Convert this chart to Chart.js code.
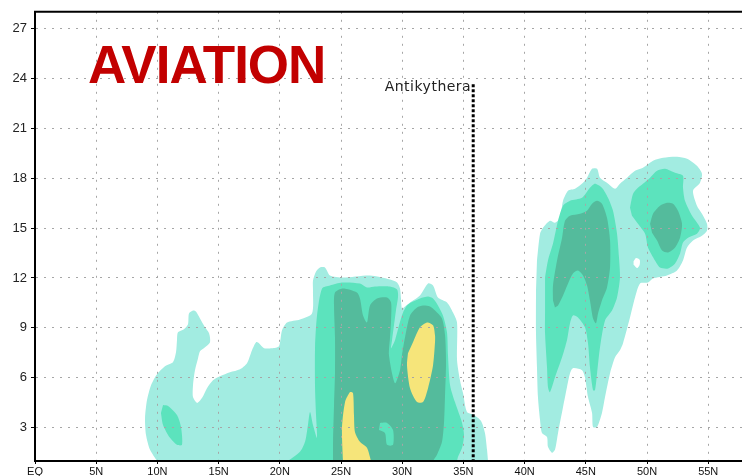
<!DOCTYPE html>
<html>
<head>
<meta charset="utf-8">
<script src="https://cdn.jsdelivr.net/npm/chart.js@4/dist/chart.umd.min.js"></script>
<style>
  html, body { margin: 0; padding: 0; background: #fff; overflow: hidden; }
  canvas { display: block; }
</style>
</head>
<body>
<canvas id="section" width="742" height="476"></canvas>
<script>
// Axis ticks: latitude (degrees north) and height (km)
const latTicks = [0, 5, 10, 15, 20, 25, 30, 35, 40, 45, 50, 55];
const latLabels = ['EQ', '5N', '10N', '15N', '20N', '25N', '30N', '35N', '40N', '45N', '50N', '55N'];
const heightTicks = [3, 6, 9, 12, 15, 18, 21, 24, 27];

// Contour bands, each as a closed outline of [latitude, height km] points
const lightWest = [
  [9.97, 1.0], [9.40, 1.67], [9.07, 2.57], [8.99, 3.59], [9.15, 4.66], [9.48, 5.56], [9.97, 6.22],
  [10.62, 6.70], [11.27, 6.94], [11.52, 7.54], [11.60, 8.26], [11.68, 8.74], [12.17, 8.92],
  [12.50, 9.22], [12.58, 9.87], [12.91, 10.05], [13.15, 9.99], [13.48, 9.57], [13.89, 9.04],
  [14.22, 8.68], [14.30, 8.14], [13.89, 7.84], [13.48, 7.60], [13.32, 7.18], [13.07, 6.46],
  [12.91, 5.56], [12.91, 4.84], [13.24, 4.49], [13.64, 4.78], [14.05, 5.38], [14.54, 5.86],
  [15.11, 6.10], [15.93, 6.34], [16.75, 6.52], [17.32, 6.88], [17.73, 7.66], [18.06, 8.14],
  [18.30, 8.08], [18.71, 7.78], [19.36, 7.78], [19.93, 7.90], [20.18, 8.86], [20.59, 9.33],
  [21.65, 9.51], [22.63, 9.87], [22.71, 11.25], [22.71, 11.85], [22.96, 12.39], [23.28, 12.63],
  [23.69, 12.63], [24.10, 12.15], [25.16, 12.03], [27.37, 12.15], [29.00, 11.91], [29.58, 11.73],
  [29.82, 11.37], [29.90, 10.77], [29.98, 10.17], [30.23, 10.29], [30.64, 10.53], [31.45, 10.95],
  [32.11, 11.67], [32.52, 11.55], [32.92, 10.83], [33.66, 10.53], [34.15, 9.93], [34.48, 9.33],
  [34.48, 7.06], [34.72, 5.86], [34.97, 5.08], [35.29, 3.95], [35.87, 3.77], [36.44, 3.41],
  [36.76, 2.69], [36.93, 1.67], [37.01, 1.0]
];
const lightEast = [
  [41.01, 13.05], [41.26, 14.66], [41.50, 15.02], [42.07, 15.44], [42.48, 15.32], [42.89, 15.62],
  [43.14, 16.64], [43.55, 17.24], [44.12, 17.36], [44.77, 17.72], [45.10, 18.02], [45.51, 18.56],
  [45.92, 18.56], [46.16, 18.02], [46.73, 17.72], [47.39, 17.36], [47.79, 17.66], [48.37, 18.02],
  [49.02, 18.44], [49.67, 18.62], [50.49, 19.04], [51.31, 19.22], [52.45, 19.28], [53.27, 19.16],
  [54.08, 18.74], [54.49, 18.26], [54.33, 17.72], [53.76, 17.24], [54.08, 16.34], [54.49, 15.86],
  [54.90, 15.26], [54.90, 14.84], [54.49, 14.54], [53.76, 14.25], [53.27, 13.83], [52.94, 13.05],
  [52.45, 12.45], [51.63, 12.15], [50.49, 11.97], [50.08, 11.73], [49.43, 11.67], [49.02, 10.83],
  [48.61, 9.63], [48.04, 8.08], [47.79, 7.66], [47.39, 7.24], [46.98, 6.28], [46.57, 4.84],
  [46.32, 3.89], [45.92, 3.05], [45.59, 3.05], [45.51, 3.89], [45.18, 4.84], [44.93, 6.04],
  [44.69, 6.46], [43.95, 6.58], [43.71, 6.28], [43.46, 5.44], [43.14, 4.25], [42.73, 2.69],
  [42.48, 1.67], [42.24, 1.49], [41.91, 1.85], [41.83, 2.45], [41.42, 2.69], [41.26, 3.47],
  [41.09, 4.84], [41.01, 6.64], [40.93, 8.68], [40.93, 11.25]
];
const clearHole = [
  [48.90, 13.00], [49.10, 13.20], [49.40, 13.10], [49.40, 12.80], [49.20, 12.60], [48.90, 12.80]
];
const mediumIsland = [
  [10.46, 4.37], [10.87, 4.31], [11.60, 3.77], [11.93, 3.05], [12.01, 1.97], [11.60, 1.97],
  [11.03, 2.39], [10.46, 3.17], [10.29, 3.89]
];
const mediumWest = [
  [20.67, 1.0], [21.65, 1.55], [22.06, 2.15], [22.30, 3.17], [22.47, 3.95], [22.71, 3.17],
  [23.04, 2.39], [22.96, 3.77], [22.88, 5.38], [22.88, 7.90], [23.04, 9.75], [23.45, 11.37],
  [24.10, 11.55], [25.08, 11.73], [26.55, 11.67], [27.12, 11.43], [27.78, 11.49], [29.00, 11.49],
  [29.58, 11.31], [29.66, 10.89], [29.49, 10.05], [29.33, 9.16], [29.17, 8.26], [29.09, 7.78],
  [29.41, 8.26], [29.74, 9.16], [30.07, 9.93], [30.47, 10.41], [31.45, 10.77], [32.11, 10.89],
  [32.52, 10.77], [32.92, 10.35], [33.33, 9.75], [33.66, 8.74], [33.74, 7.36], [33.91, 5.56],
  [34.31, 4.54], [34.89, 3.29], [35.05, 2.57], [34.89, 1.79], [34.56, 1.25], [34.48, 1.0]
];
const mediumEastA = [
  [41.67, 12.03], [41.91, 13.05], [42.32, 14.07], [42.73, 15.44], [43.14, 16.34], [43.71, 16.64],
  [44.69, 16.82], [45.34, 17.42], [45.75, 17.66], [46.32, 17.42], [46.81, 16.82], [47.22, 16.04],
  [47.55, 14.66], [47.71, 13.23], [47.79, 12.03], [47.55, 10.83], [47.14, 10.05], [46.57, 9.45],
  [46.16, 7.84], [45.92, 6.28], [45.75, 5.26], [45.59, 5.26], [45.34, 6.64], [45.18, 8.08],
  [44.93, 9.04], [44.36, 9.63], [43.95, 9.75], [43.71, 9.28], [43.46, 8.26], [43.06, 7.24],
  [42.48, 6.04], [42.07, 5.14], [41.91, 5.44], [41.83, 6.64], [41.67, 8.68], [41.67, 10.05]
];
const mediumEastB = [
  [48.61, 16.22], [48.86, 17.06], [49.26, 17.42], [49.67, 17.66], [50.25, 18.02], [50.82, 18.44],
  [51.47, 18.56], [52.29, 18.32], [52.94, 18.14], [52.94, 17.42], [53.10, 16.64], [53.68, 15.74],
  [54.33, 15.02], [54.08, 14.66], [53.35, 14.42], [52.94, 14.13], [52.70, 13.47], [52.29, 12.87],
  [51.72, 12.57], [51.06, 12.63], [50.65, 13.05], [50.08, 13.83], [49.84, 14.66], [49.26, 15.26],
  [48.77, 15.74]
];
const darkWest = [
  [24.35, 1.0], [24.35, 2.15], [24.43, 4.37], [24.51, 6.34], [24.51, 8.38], [24.43, 10.35],
  [24.51, 11.13], [25.16, 11.37], [26.30, 11.13], [26.55, 10.77], [26.80, 9.75], [27.12, 9.33],
  [27.37, 10.35], [27.94, 10.77], [28.76, 10.83], [29.09, 10.53], [29.09, 9.45], [29.00, 8.38],
  [28.92, 7.36], [29.41, 5.68], [29.82, 6.46], [29.98, 7.36], [30.23, 8.44], [30.64, 9.75],
  [31.21, 10.23], [31.70, 10.35], [32.27, 10.29], [32.68, 10.05], [33.25, 9.57], [33.50, 8.56],
  [33.58, 6.94], [33.50, 4.96], [33.42, 3.35], [33.25, 2.15], [32.84, 1.37], [32.52, 1.0]
];
const mediumPatch = [
  [28.19, 3.29], [28.76, 3.29], [29.25, 2.87], [29.25, 1.97], [28.76, 1.97], [28.59, 2.69],
  [28.10, 2.87]
];
const darkEastA = [
  [42.32, 10.65], [42.32, 11.55], [42.65, 13.05], [43.06, 14.42], [43.30, 15.44], [43.71, 15.74],
  [44.53, 15.86], [45.10, 16.04], [45.51, 16.46], [45.92, 16.64], [46.32, 16.46], [46.73, 15.62],
  [46.98, 14.25], [46.98, 12.63], [46.73, 11.43], [46.32, 10.65], [46.00, 9.87], [45.83, 9.28],
  [45.59, 9.57], [45.34, 10.65], [45.10, 11.55], [44.77, 12.15], [44.36, 12.45], [43.95, 12.27],
  [43.55, 11.67], [43.14, 10.95], [42.73, 10.35], [42.48, 10.23]
];
const darkEastB = [
  [50.25, 15.26], [50.49, 15.86], [51.06, 16.34], [51.63, 16.52], [52.12, 16.46], [52.53, 16.04],
  [52.86, 15.26], [52.70, 14.42], [52.29, 13.83], [51.72, 13.53], [51.23, 13.65], [50.82, 14.25],
  [50.41, 14.72]
];
const yellowLow = [
  [25.16, 1.0], [25.08, 2.99], [25.33, 4.54], [25.74, 5.14], [25.98, 5.08], [26.06, 3.77],
  [26.14, 2.75], [26.55, 2.15], [27.12, 1.79], [27.45, 1.0]
];
const yellowHigh = [
  [30.88, 8.14], [31.45, 9.04], [32.03, 9.33], [32.52, 9.16], [32.68, 8.56], [32.68, 8.14],
  [32.52, 6.76], [32.11, 5.38], [31.70, 4.54], [31.21, 4.54], [30.64, 5.38], [30.39, 6.76],
  [30.47, 7.48]
];

// Site marker
const siteName = 'Antikythera';
const siteLat = 35.8;
const siteTop = 23.65;
const panelLabel = 'AVIATION';

const bandColors = {
  light: '#a2ece1',
  medium: '#5ce3bd',
  dark: '#54bb9c',
  yellow: '#f6e57a',
  clear: '#ffffff'
};

function band(points, color, order) {
  return {
    data: points.map(p => ({ x: p[0], y: p[1] })),
    showLine: true,
    fill: 'shape',
    backgroundColor: color,
    borderWidth: 0,
    borderColor: color,
    pointRadius: 0,
    tension: 0.25,
    order: order
  };
}

const datasets = [
  {
    data: [{ x: siteLat, y: siteTop }, { x: siteLat, y: 1 }],
    showLine: true,
    fill: false,
    borderColor: '#000',
    borderWidth: 3,
    borderDash: [3, 2],
    pointRadius: 0,
    order: 0
  },
  band(yellowLow, bandColors.yellow, 1),
  band(yellowHigh, bandColors.yellow, 1),
  band(mediumPatch, bandColors.medium, 2),
  band(darkWest, bandColors.dark, 3),
  band(darkEastA, bandColors.dark, 3),
  band(darkEastB, bandColors.dark, 3),
  band(mediumIsland, bandColors.medium, 4),
  band(mediumWest, bandColors.medium, 4),
  band(mediumEastA, bandColors.medium, 4),
  band(mediumEastB, bandColors.medium, 4),
  band(clearHole, bandColors.clear, 5),
  band(lightWest, bandColors.light, 6),
  band(lightEast, bandColors.light, 6)
];

// Frame top edge, site name and panel heading
const decorations = {
  id: 'decorations',
  afterDraw(chart) {
    const { ctx, chartArea, scales } = chart;
    ctx.save();
    ctx.strokeStyle = '#000';
    ctx.lineWidth = 2;
    ctx.beginPath();
    ctx.moveTo(chartArea.left - 1, chartArea.top);
    ctx.lineTo(chartArea.right, chartArea.top);
    ctx.stroke();

    const sx = scales.x.getPixelForValue(siteLat);
    const sy = scales.y.getPixelForValue(siteTop);
    ctx.fillStyle = '#222';
    ctx.font = '14px "DejaVu Sans", sans-serif';
    ctx.textAlign = 'right';
    ctx.textBaseline = 'alphabetic';
    if ('letterSpacing' in ctx) ctx.letterSpacing = '0.5px';
    ctx.fillText(siteName, sx - 2, sy + 7);

    ctx.fillStyle = '#c20000';
    ctx.font = 'bold 53px "Liberation Sans", Arial, sans-serif';
    ctx.textAlign = 'left';
    if ('letterSpacing' in ctx) ctx.letterSpacing = '-1px';
    ctx.fillText(panelLabel, 88, 83);
    ctx.restore();
  }
};

new Chart(document.getElementById('section'), {
  type: 'scatter',
  data: { datasets },
  options: {
    responsive: false,
    animation: false,
    devicePixelRatio: 1,
    layout: { padding: { top: 10, left: 0, right: 0, bottom: 0 } },
    plugins: { legend: { display: false }, tooltip: { enabled: false } },
    scales: {
      x: {
        type: 'linear',
        min: 0,
        max: 57.76,
        afterBuildTicks: s => { s.ticks = latTicks.map(v => ({ value: v })); },
        afterFit: s => { s.height = 15; },
        ticks: {
          autoSkip: false,
          maxRotation: 0,
          padding: 1,
          color: '#111',
          font: { family: '"Liberation Sans", Arial, sans-serif', size: 11 },
          callback: v => latLabels[latTicks.indexOf(v)]
        },
        grid: {
          z: 1,
          color: '#a6a6a6',
          lineWidth: 1,
          tickLength: 3,
          tickColor: '#000',
          tickWidth: 1,
          tickBorderDash: []
        },
        border: { display: true, color: '#000', width: 2, dash: [2, 6], z: 2 }
      },
      y: {
        type: 'linear',
        min: 1,
        max: 28,
        afterBuildTicks: s => { s.ticks = heightTicks.map(v => ({ value: v })); },
        afterFit: s => { s.width = 35; },
        ticks: {
          autoSkip: false,
          padding: 4,
          color: '#222',
          font: { family: '"Liberation Sans", Arial, sans-serif', size: 13 }
        },
        grid: {
          z: 1,
          color: '#a6a6a6',
          lineWidth: 1,
          tickLength: 4,
          tickColor: '#000',
          tickWidth: 1,
          tickBorderDash: []
        },
        border: { display: true, color: '#000', width: 2, dash: [2, 6], z: 2 }
      }
    }
  },
  plugins: [decorations]
});
</script>
</body>
</html>
